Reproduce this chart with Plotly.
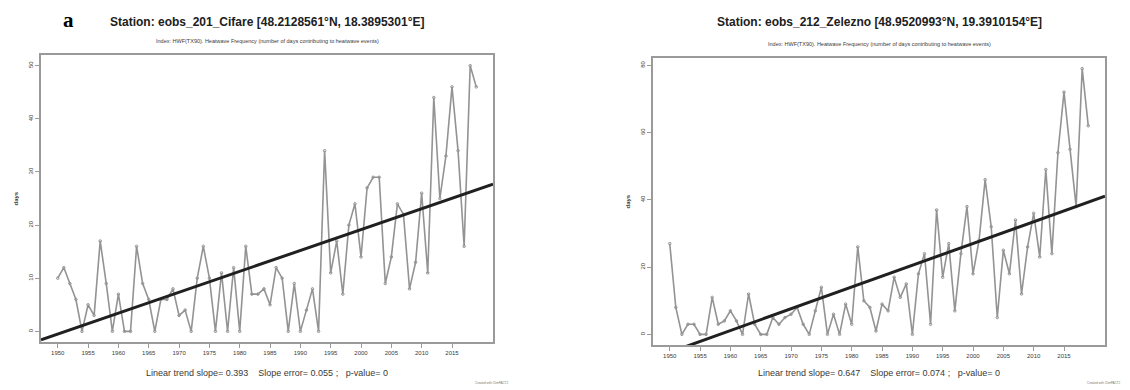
import numpy as np
import plotly.graph_objects as go

years = list(range(1950, 2020))

cifare_days = [10, 12, 9, 6, 0, 5, 3, 17, 9, 0,
               7, 0, 0, 16, 9, 6, 0, 6, 6, 8,
               3, 4, 0, 10, 16, 10, 0, 11, 0, 12,
               0, 16, 7, 7, 8, 5, 12, 10, 0, 9,
               0, 4, 8, 0, 34, 11, 17, 7, 20, 24,
               14, 27, 29, 29, 9, 14, 24, 22, 8, 13,
               26, 11, 44, 25, 33, 46, 34, 16, 50, 46]

zelezno_days = [27, 8, 0, 3, 3, 0, 0, 11, 3, 4,
                7, 4, 0, 12, 3, 0, 0, 5, 3, 5,
                6, 8, 3, 0, 7, 14, 0, 6, 0, 9,
                3, 26, 10, 8, 1, 9, 7, 17, 11, 15,
                0, 18, 24, 3, 37, 17, 27, 7, 24, 38,
                18, 28, 46, 32, 5, 25, 18, 34, 12, 26,
                36, 23, 49, 24, 54, 72, 55, 38, 79, 62]

titles = ["Station: eobs_201_Cifare [48.2128561°N, 18.3895301°E]",
          "Station: eobs_212_Zelezno [48.9520993°N, 19.3910154°E]"]
subtitle = "Index: HWF(TX90). Heatwave Frequency (number of days contributing to heatwave events)"
slopes = [0.393, 0.647]
slope_errors = [0.055, 0.074]
p_values = [0, 0]
x_ticks = list(range(1950, 2016, 5))
y_ticks = [[0, 10, 20, 30, 40, 50], [0, 20, 40, 60, 80]]

W, H = 1130, 390
panels = [
    dict(x0=41, x1=493, y0=55, y1=342, data=cifare_days),
    dict(x0=653, x1=1105, y0=58, y1=345, data=zelezno_days),
]

fig = go.Figure()
GRAY = "#939393"
FRAME = "#9a9a9a"
TXT = "#3a3a3a"

annotations = []
layout_axes = {}
for i, p in enumerate(panels):
    xs = "" if i == 0 else str(i + 1)
    xr = [years[0] - 0.04 * (years[-1] - years[0]), years[-1] + 0.04 * (years[-1] - years[0])]
    ymax = max(p["data"])
    yr = [-0.04 * ymax, ymax * 1.04]
    yv = np.array(p["data"], dtype=float)
    xv = np.array(years, dtype=float)
    b = slopes[i]
    a = yv.mean() - b * xv.mean()
    fig.add_trace(go.Scatter(x=years, y=p["data"], mode="lines+markers",
                             line=dict(color=GRAY, width=1.6),
                             marker=dict(symbol="circle-open", size=2.5, color=GRAY, line=dict(width=1)),
                             xaxis="x" + xs, yaxis="y" + xs, showlegend=False))
    fig.add_trace(go.Scatter(x=xr, y=[a + b * xr[0], a + b * xr[1]], mode="lines",
                             line=dict(color="#202020", width=3),
                             xaxis="x" + xs, yaxis="y" + xs, showlegend=False))
    layout_axes["xaxis" + xs] = dict(
        domain=[p["x0"] / W, p["x1"] / W], range=xr, anchor="y" + xs,
        tickvals=x_ticks, ticks="outside", ticklen=4, tickcolor=FRAME, tickwidth=1,
        showline=True, linecolor=FRAME, linewidth=2, mirror=True,
        showgrid=False, zeroline=False,
        tickfont=dict(family="Liberation Sans", size=6, color=TXT))
    layout_axes["yaxis" + xs] = dict(
        domain=[1 - p["y1"] / H, 1 - p["y0"] / H], range=yr, anchor="x" + xs,
        tickvals=y_ticks[i], ticks="outside", ticklen=4, tickcolor=FRAME, tickwidth=1,
        tickangle=-90,
        showline=True, linecolor=FRAME, linewidth=2, mirror=True,
        showgrid=False, zeroline=False,
        tickfont=dict(family="Liberation Sans", size=6, color=TXT))
    cx = (p["x0"] + p["x1"]) / 2 / W
    annotations.append(dict(text="<b>" + titles[i] + "</b>", x=cx, y=1 - 22 / H, xref="paper", yref="paper",
                            showarrow=False, font=dict(family="Liberation Sans", size=12, color="#202020"),
                            xanchor="center", yanchor="middle"))
    annotations.append(dict(text=subtitle, x=cx, y=1 - (p["y0"] - 14) / H, xref="paper", yref="paper",
                            showarrow=False, font=dict(family="Liberation Sans", size=5.5, color=TXT),
                            xanchor="center", yanchor="middle"))
    annotations.append(dict(text="<b>days</b>", x=(p["x0"] - 26) / W, y=1 - ((p["y0"] + p["y1"]) / 2 - 0) / H,
                            xref="paper", yref="paper", textangle=-90,
                            showarrow=False, font=dict(family="Liberation Sans", size=6, color=TXT),
                            xanchor="center", yanchor="middle"))
    annotations.append(dict(text="Linear trend slope= %.3f    Slope error= %.3f ;   p-value= %g" % (slopes[i], slope_errors[i], p_values[i]),
                            x=cx, y=1 - 373 / H, xref="paper", yref="paper",
                            showarrow=False, font=dict(family="Liberation Sans", size=9, color=TXT),
                            xanchor="center", yanchor="middle"))
    annotations.append(dict(text="Created with ClimPACT2", x=(p["x1"] - 20) / W, y=1 - 383 / H,
                            xref="paper", yref="paper",
                            showarrow=False, font=dict(family="Liberation Sans", size=3, color="#777"),
                            xanchor="left", yanchor="middle"))

annotations.append(dict(text="<b>a</b>", x=61 / W, y=1 - 20 / H, xref="paper", yref="paper",
                        showarrow=False, font=dict(family="Liberation Serif", size=21, color="#000"),
                        xanchor="left", yanchor="middle"))

fig.update_layout(width=W, height=H, margin=dict(l=0, r=0, t=0, b=0),
                  paper_bgcolor="white", plot_bgcolor="white",
                  annotations=annotations, **layout_axes)

fig.write_html("out.html")
